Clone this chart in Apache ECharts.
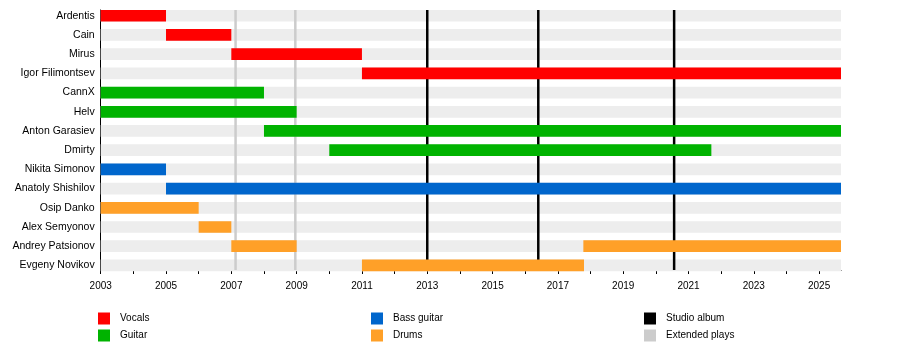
<!DOCTYPE html>
<html><head><meta charset="utf-8">
<script src="https://cdn.jsdelivr.net/npm/echarts@6/dist/echarts.min.js"></script>
<style>html,body{margin:0;padding:0;background:#fff}#c{width:900px;height:360px}</style>
</head><body><div id="c"></div>
<script>
const members = ['Ardentis','Cain','Mirus','Igor Filimontsev','CannX','Helv','Anton Garasiev','Dmirty','Nikita Simonov','Anatoly Shishilov','Osip Danko','Alex Semyonov','Andrey Patsionov','Evgeny Novikov'];
const rowIndex = [0,1,2,3,4,5,6,7,8,9,10,11,12,13];
const timelineStart = 2003;
const timelineEnd = 2025.67;
// [row, start, end]
const vocals = [[0,2003,2005],[1,2005,2007],[2,2007,2011],[3,2011,2025.67]];
const guitar = [[4,2003,2008],[5,2003,2009],[6,2008,2025.67],[7,2010,2021.7]];
const bass = [[8,2003,2005],[9,2005,2025.67]];
const drums = [[10,2003,2006],[11,2006,2007],[12,2007,2009],[12,2017.78,2025.67],[13,2011,2017.8]];
const studioAlbums = [2013.0, 2016.4, 2020.56];
const extendedPlays = [2007.13, 2008.96];
const tickYears = [2003,2004,2005,2006,2007,2008,2009,2010,2011,2012,2013,2014,2015,2016,2017,2018,2019,2020,2021,2022,2023,2024,2025];
const labelYears = [2003,2005,2007,2009,2011,2013,2015,2017,2019,2021,2023,2025];

const Y_MIN = -0.3, Y_MAX = 13.24;
const FONT = "'Liberation Sans', Arial, sans-serif";

function barRender(params, api) {
  const row = api.value(0), s = api.value(1), e = api.value(2);
  const p0 = api.coord([s, row]);
  const p1 = api.coord([e, row]);
  const h = api.size([0, 1])[1] * 0.61;
  return {type: 'rect', shape: {x: p0[0], y: p0[1] - h / 2, width: p1[0] - p0[0], height: h},
          style: {fill: api.visual('color')}};
}
function lineRender(params, api) {
  const x = api.value(0);
  const a = api.coord([x, Y_MIN]);
  const b = api.coord([x, Y_MAX]);
  return {type: 'line', shape: {x1: a[0], y1: a[1], x2: b[0], y2: b[1]},
          style: {stroke: api.visual('color'), lineWidth: 2.5}};
}
function barSeries(name, data, color) {
  return {name, type: 'custom', renderItem: barRender, data, encode: {x: [1, 2], y: 0},
          itemStyle: {color}, silent: true};
}
function lineSeries(name, vals, color) {
  return {name, type: 'custom', renderItem: lineRender, data: vals.map(v => [v, 0]),
          encode: {x: 0, y: 1}, itemStyle: {color}, silent: true};
}

const chart = echarts.init(document.getElementById('c'), null, {renderer: 'canvas'});
const legendCommon = {orient: 'vertical', itemWidth: 12, itemHeight: 12, itemGap: 5, icon: 'rect',
  padding: 0, selectedMode: false,
  textStyle: {fontSize: 10, color: '#000', fontFamily: FONT, padding: [0, 0, 0, 5]}};
chart.setOption({
  animation: false,
  textStyle: {fontFamily: FONT},
  grid: {left: 100.7, right: 59, top: 10, bottom: 90, containLabel: false},
  xAxis: {type: 'value', min: timelineStart, max: timelineEnd,
    axisLine: {onZero: false, lineStyle: {color: '#000', width: 1}},
    axisTick: {customValues: tickYears, length: 4, lineStyle: {color: '#000'}},
    axisLabel: {customValues: labelYears, formatter: v => String(Math.round(v)),
      fontSize: 10, color: '#000', margin: 11, fontFamily: FONT},
    splitLine: {show: false}},
  yAxis: {type: 'value', inverse: true, min: Y_MIN, max: Y_MAX,
    axisLine: {show: true, onZero: false, lineStyle: {color: '#000', width: 1}},
    axisTick: {show: false}, splitLine: {show: false},
    axisLabel: {customValues: rowIndex, formatter: v => members[Math.round(v)] || '',
      fontSize: 10.5, color: '#000', margin: 6, fontFamily: FONT}},
  legend: [
    Object.assign({data: ['Vocals', 'Guitar'], left: 98, top: 312.5}, legendCommon),
    Object.assign({data: ['Bass guitar', 'Drums'], left: 371, top: 312.5}, legendCommon),
    Object.assign({data: ['Studio album', 'Extended plays'], left: 644, top: 312.5}, legendCommon)
  ],
  series: [
    barSeries('background', members.map((m, i) => [i, timelineStart, timelineEnd]), '#ededed'),
    lineSeries('Extended plays', extendedPlays, '#cccccc'),
    lineSeries('Studio album', studioAlbums, '#000000'),
    barSeries('Vocals', vocals, '#ff0000'),
    barSeries('Guitar', guitar, '#00b300'),
    barSeries('Bass guitar', bass, '#0066cc'),
    barSeries('Drums', drums, '#ffa028')
  ]
});
</script></body></html>
